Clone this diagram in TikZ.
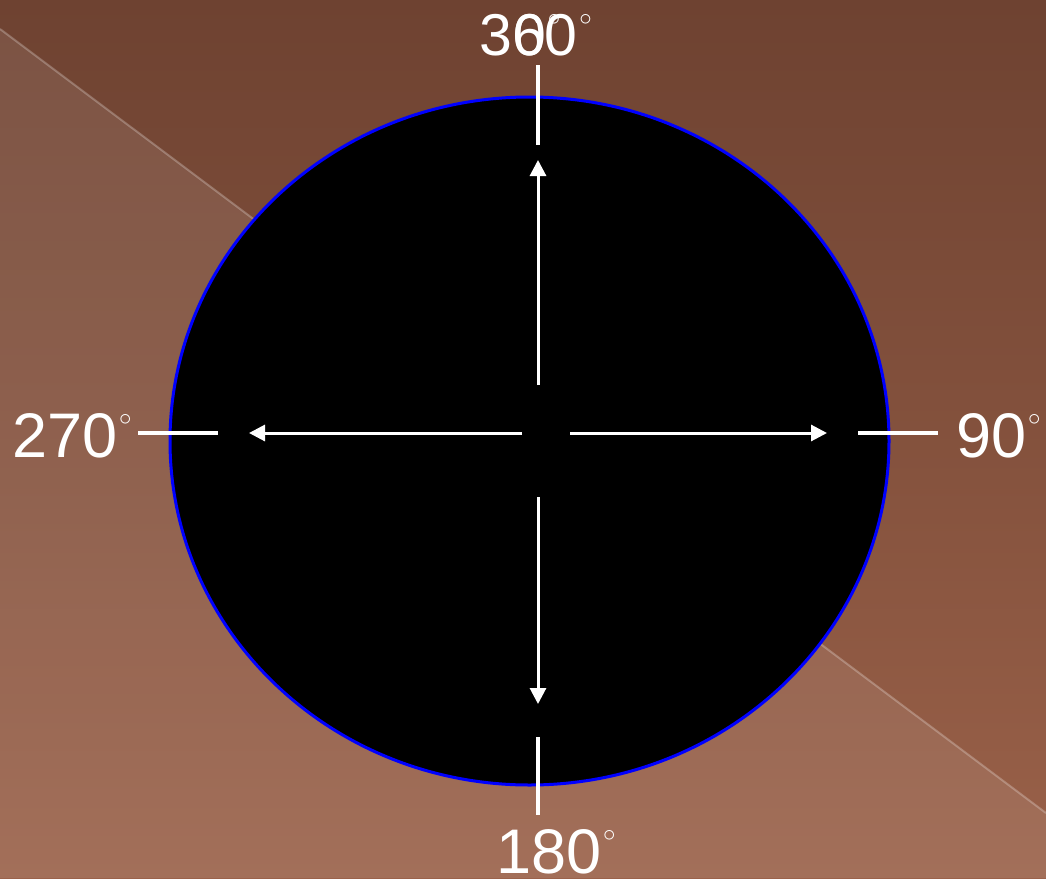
\documentclass[tikz,border=0pt]{standalone}
\usepackage{fontspec}
\setmainfont{Liberation Sans}
\usetikzlibrary{arrows.meta}
\definecolor{bgtop}{RGB}{110,66,49}
\definecolor{bgbot}{RGB}{154,97,73}
\definecolor{ringblue}{RGB}{0,0,255}
\tikzset{
  lbl/.style={text=white, inner sep=0pt, anchor=base west, font=\fontsize{63}{63}\selectfont},
  toplbl/.style={lbl, font=\fontsize{59}{59}\selectfont},
  tick/.style={draw=white, line width=4pt},
  dirarrow/.style={draw=white, line width=3pt, -{Triangle[width=16pt,length=16pt]}},
}
\newcommand{\dg}{\hspace{0.03em}\raisebox{0.5em}{\fontsize{28}{28}\selectfont$\circ$}}
\begin{document}
\begin{tikzpicture}[x=1pt,y=-1pt]
\useasboundingbox (0,0) rectangle (1046,878);
% background
\shade[top color=bgtop, bottom color=bgbot] (0,0) rectangle (1046,878);
\fill[white, opacity=0.09] (0,29) -- (1046,813) -- (1046,878) -- (0,878) -- cycle;
\draw[white, opacity=0.25, line width=2pt] (0,29) -- (1046,813);
% disc
\draw[ringblue, line width=3pt, fill=black] (529.5,441) ellipse [x radius=359.5, y radius=344];
% ticks
\coordinate (tT1) at (538,65);  \coordinate (tT2) at (538,145);
\coordinate (tB1) at (538,737); \coordinate (tB2) at (538,815);
\coordinate (tL1) at (138,433); \coordinate (tL2) at (218,433);
\coordinate (tR1) at (858,433); \coordinate (tR2) at (938,433);
\draw[tick] (tT1) -- (tT2);
\draw[tick] (tB1) -- (tB2);
\draw[tick] (tL1) -- (tL2);
\draw[tick] (tR1) -- (tR2);
% arrows
\coordinate (aU0) at (538,385); \coordinate (aU1) at (538,160);
\coordinate (aD0) at (538,497); \coordinate (aD1) at (538,704);
\coordinate (aL0) at (522,433); \coordinate (aL1) at (249,433);
\coordinate (aR0) at (570,433); \coordinate (aR1) at (827,433);
\draw[dirarrow] (aU0) -- (aU1);
\draw[dirarrow] (aD0) -- (aD1);
\draw[dirarrow] (aL0) -- (aL1);
\draw[dirarrow] (aR0) -- (aR1);
% labels
\node[toplbl] (l360) at (479,55) {360\dg};
\node[toplbl] (l0) at (513,55) {0\dg};
\node[lbl] (l270) at (12,457) {270\dg};
\node[lbl] (l90) at (956,457) {90\dg};
\node[lbl] (l180) at (496,873) {180\dg};
\end{tikzpicture}
\end{document}
